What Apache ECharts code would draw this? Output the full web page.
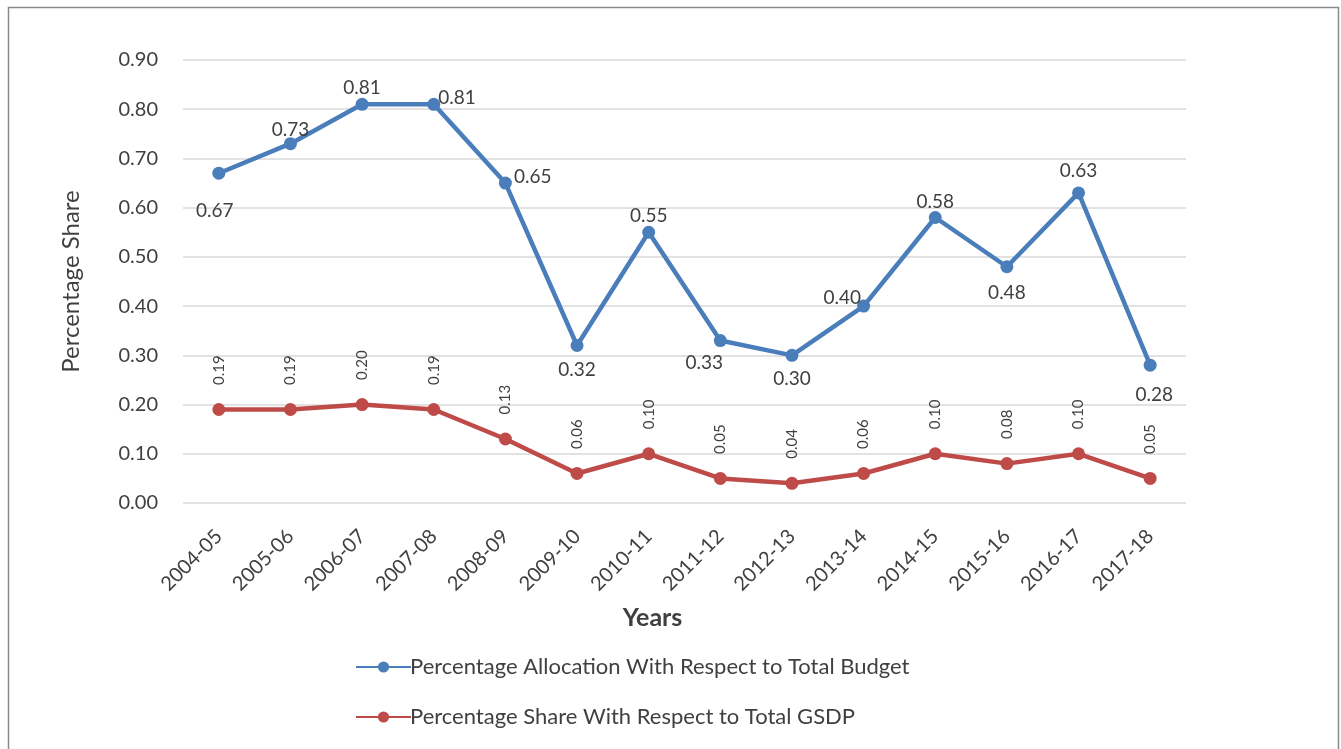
<!DOCTYPE html>
<html>
<head>
<meta charset="utf-8">
<script src="https://cdn.jsdelivr.net/npm/echarts@6/dist/echarts.min.js"></script>
<style>
  html, body { margin: 0; padding: 0; background: #fff; }
  #chart { width: 1341px; height: 749px; }
</style>
</head>
<body>
<div id="chart"></div>
<script>
// data
var years = ["2004-05", "2005-06", "2006-07", "2007-08", "2008-09", "2009-10", "2010-11",
  "2011-12", "2012-13", "2013-14", "2014-15", "2015-16", "2016-17", "2017-18"];
var budgetShare = [0.67, 0.73, 0.81, 0.81, 0.65, 0.32, 0.55, 0.33, 0.30, 0.40, 0.58, 0.48, 0.63, 0.28];
var gsdpShare = [0.19, 0.19, 0.20, 0.19, 0.13, 0.06, 0.10, 0.05, 0.04, 0.06, 0.10, 0.08, 0.10, 0.05];
var yTicks = [0, 0.1, 0.2, 0.3, 0.4, 0.5, 0.6, 0.7, 0.8, 0.9];

// where each blue label sits
var budgetLabelPos = ["bottom", "top", "top", "right", "right", "bottom", "top",
  "bottom", "bottom", "left", "top", "bottom", "top", "bottom"];
var budgetLabelOffset = [[-4, 14], [0, 10], [0, 8], [-10, -6], [-6, -6], [0, 0], [0, 8],
  [-16, -2], [0, 0], [12, -8], [0, 8], [0, 2], [0, 2], [4, 6]];

var font = "Lato, 'Noto Sans', sans-serif";
var textColor = "#404040";

var budgetData = budgetShare.map(function (v, i) {
  return {
    value: v,
    label: { position: budgetLabelPos[i], offset: budgetLabelOffset[i] }
  };
});

var option = {
  backgroundColor: "#fff",
  animation: false,
  textStyle: { fontFamily: font, color: textColor },
  graphic: [{
    type: "rect",
    shape: { x: 8.5, y: 7.5, width: 1330, height: 760 },
    style: { fill: "none", stroke: "#8a8a8a", lineWidth: 1.5 },
    silent: true
  }],
  grid: { left: 183, right: 155, top: 60, bottom: 246 },
  legend: {
    orient: "vertical",
    left: 350,
    top: 651,
    itemWidth: 55,
    itemHeight: 14,
    itemGap: 28,
    textStyle: { fontFamily: font, fontSize: 22, color: textColor, padding: [0, 0, 0, -6] },
    data: ["Percentage Allocation With Respect to Total Budget", "Percentage Share With Respect to Total GSDP"]
  },
  xAxis: {
    type: "category",
    data: years,
    boundaryGap: true,
    name: "Years",
    nameLocation: "middle",
    nameGap: 102,
    nameTextStyle: { fontFamily: font, fontSize: 25, fontWeight: "bold", color: textColor, padding: [0, 64, 0, 0] },
    axisLine: { show: false },
    axisTick: { show: false },
    axisLabel: { rotate: 45, fontSize: 20, color: textColor, margin: 30, interval: 0 }
  },
  yAxis: {
    type: "value",
    min: 0,
    max: yTicks[yTicks.length - 1],
    interval: 0.1,
    name: "Percentage Share",
    nameLocation: "middle",
    nameGap: 100,
    nameTextStyle: { fontFamily: font, fontSize: 24, color: textColor },
    axisLine: { show: false },
    axisTick: { show: false },
    axisLabel: { fontSize: 20, color: textColor, margin: 25, formatter: function (v) { return v.toFixed(2); } },
    splitLine: { lineStyle: { color: "#d9d9d9", width: 1.5 } }
  },
  series: [
    {
      name: "Percentage Allocation With Respect to Total Budget",
      type: "line",
      data: budgetData,
      symbol: "circle",
      symbolSize: 13,
      lineStyle: { color: "#4a7ebb", width: 4.5 },
      itemStyle: { color: "#4a7ebb" },
      label: {
        show: true,
        fontSize: 19,
        color: textColor,
        distance: 8,
        formatter: function (p) { return p.value.toFixed(2); }
      }
    },
    {
      name: "Percentage Share With Respect to Total GSDP",
      type: "line",
      data: gsdpShare,
      symbol: "circle",
      symbolSize: 13,
      lineStyle: { color: "#be4b48", width: 4.5 },
      itemStyle: { color: "#be4b48" },
      label: {
        show: true,
        position: "top",
        rotate: 90,
        align: "left",
        verticalAlign: "middle",
        distance: 18,
        fontSize: 15,
        color: textColor,
        formatter: function (p) { return p.value.toFixed(2); }
      }
    }
  ]
};

var chart = echarts.init(document.getElementById("chart"));
chart.setOption(option);
</script>
</body>
</html>
